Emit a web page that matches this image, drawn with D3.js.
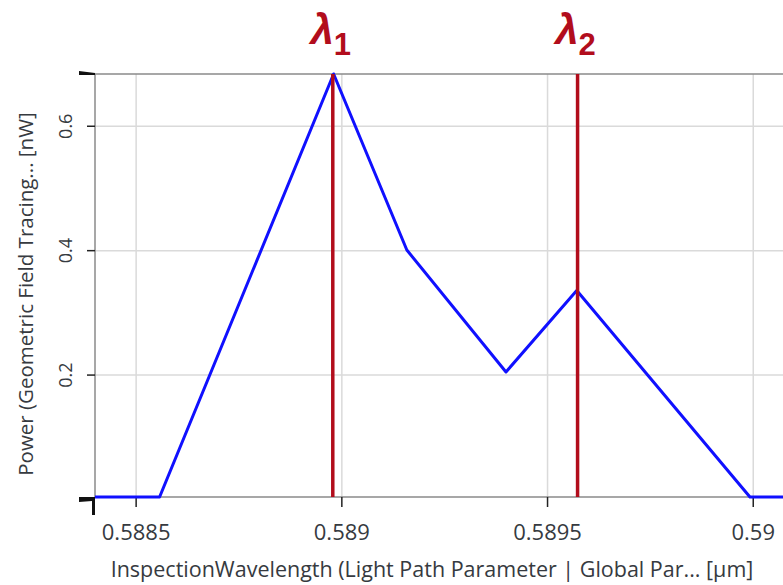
<!DOCTYPE html>
<html lang="en">
<head>
<meta charset="UTF-8" />
<title>Power vs Inspection Wavelength</title>
<script src="https://d3js.org/d3.v7.min.js"></script>
<style>
  body { margin: 0; background: #fff; }
  svg { display: block; font-family: "Open Sans", sans-serif; }
  .tick-label { fill: #363a40; }
  .axis-title { fill: #363a40; }
</style>
</head>
<body>
<svg id="chart" width="783" height="585"></svg>
<script>
// data
const wavelength = [0.5884, 0.588557, 0.58898, 0.589158, 0.589399, 0.589571, 0.589992, 0.5901];
const power = [0.004, 0.004, 0.684, 0.401, 0.205, 0.336, 0.004, 0.004];
const xTicks = [0.5885, 0.589, 0.5895, 0.59];
const yTicks = [0.2, 0.4, 0.6];
const markerWl = [0.588978, 0.589573];
const markerSub = ["1", "2"];

const svg = d3.select("#chart");
const plotL = 95, plotT = 74, plotB = 497;

const x = d3.scaleLinear().domain([0.5884, 0.5901]).range([plotL, plotL + 0.0017 * 411400]);
const y = d3.scaleLinear().domain(d3.extent(power)).range([plotB, plotT]);

// grid
svg.append("g").selectAll("line")
  .data(xTicks).join("line")
  .attr("x1", d => x(d)).attr("x2", d => x(d))
  .attr("y1", plotT).attr("y2", plotB)
  .attr("stroke", "#dadada").attr("stroke-width", 1.5);
svg.append("g").selectAll("line")
  .data(yTicks).join("line")
  .attr("x1", plotL).attr("x2", 783)
  .attr("y1", d => y(d)).attr("y2", d => y(d))
  .attr("stroke", "#dadada").attr("stroke-width", 1.5);

// frame lines
svg.append("line").attr("x1", plotL).attr("x2", 783).attr("y1", plotT).attr("y2", plotT)
  .attr("stroke", "#8a8a8a").attr("stroke-width", 1.5);
svg.append("line").attr("x1", plotL).attr("x2", 783).attr("y1", plotB).attr("y2", plotB)
  .attr("stroke", "#8a8a8a").attr("stroke-width", 1.5);
svg.append("line").attr("x1", plotL).attr("x2", plotL).attr("y1", plotT).attr("y2", plotB)
  .attr("stroke", "#8a8a8a").attr("stroke-width", 1.5);

// tick marks
svg.append("g").selectAll("line")
  .data(yTicks).join("line")
  .attr("x1", plotL - 8).attr("x2", plotL)
  .attr("y1", d => y(d)).attr("y2", d => y(d))
  .attr("stroke", "#222").attr("stroke-width", 1.5);
svg.append("g").selectAll("line")
  .data(xTicks).join("line")
  .attr("x1", d => x(d)).attr("x2", d => x(d))
  .attr("y1", plotB).attr("y2", plotB + 10)
  .attr("stroke", "#222").attr("stroke-width", 1.5);

// end caps at the corners
svg.append("path").attr("d", `M${plotL - 16},${plotT - 3} L${plotL},${plotT - 1} L${plotL},${plotT + 1} L${plotL - 16},${plotT + 1} Z`).attr("fill", "#111");
svg.append("path").attr("d", `M${plotL - 16},${plotB} L${plotL},${plotB} L${plotL},${plotB + 18} L${plotL - 3},${plotB + 18} L${plotL - 3},${plotB + 4} L${plotL - 16},${plotB + 5} Z`).attr("fill", "#111");

// tick labels
svg.append("g").selectAll("text")
  .data(xTicks).join("text")
  .attr("class", "tick-label")
  .attr("x", d => x(d)).attr("y", 540)
  .attr("text-anchor", "middle")
  .attr("font-size", 22)
  .text(d => d3.format("")(d));
svg.append("g").selectAll("text")
  .data(yTicks).join("text")
  .attr("class", "tick-label")
  .attr("transform", d => `translate(72,${y(d)}) rotate(-90)`)
  .attr("text-anchor", "middle")
  .attr("font-size", 18)
  .text(d => d3.format(".1f")(d));

// axis titles
svg.append("text").attr("class", "axis-title")
  .attr("x", 432).attr("y", 577)
  .attr("text-anchor", "middle").attr("font-size", 21.5)
  .text("InspectionWavelength (Light Path Parameter | Global Par... [µm]");
svg.append("text").attr("class", "axis-title")
  .attr("transform", "translate(33,294) rotate(-90)")
  .attr("text-anchor", "middle").attr("font-size", 20.5)
  .text("Power (Geometric Field Tracing... [nW]");

// plot clip
svg.append("clipPath").attr("id", "plot")
  .append("rect").attr("x", plotL).attr("y", plotT - 3).attr("width", 783 - plotL).attr("height", plotB - plotT + 6);

// curve
const line = d3.line().x((d, i) => x(wavelength[i])).y(d => y(d));
svg.append("path")
  .datum(power)
  .attr("clip-path", "url(#plot)")
  .attr("d", line)
  .attr("fill", "none")
  .attr("stroke", "#1010ff")
  .attr("stroke-width", 3)
  .attr("stroke-linejoin", "round");

// marker lines
const red = "#b20d1c";
svg.append("g").selectAll("line")
  .data(markerWl).join("line")
  .attr("x1", d => x(d)).attr("x2", d => x(d))
  .attr("y1", plotT).attr("y2", plotB)
  .attr("stroke", red).attr("stroke-width", 3.5);

const lab = svg.append("g").selectAll("g")
  .data(markerWl).join("g")
  .attr("transform", d => `translate(${x(d)},0)`);
lab.append("text")
  .attr("x", 1).attr("y", 44)
  .attr("text-anchor", "end")
  .attr("font-family", "Liberation Sans, Arial, sans-serif")
  .attr("font-size", 42).attr("font-weight", "bold").attr("font-style", "italic")
  .attr("fill", red)
  .text("λ");
lab.append("text")
  .attr("x", 1).attr("y", 55)
  .attr("text-anchor", "start")
  .attr("font-family", "Liberation Sans, Arial, sans-serif")
  .attr("font-size", 31).attr("font-weight", "bold")
  .attr("fill", red)
  .text((d, i) => markerSub[i]);
</script>
</body>
</html>
